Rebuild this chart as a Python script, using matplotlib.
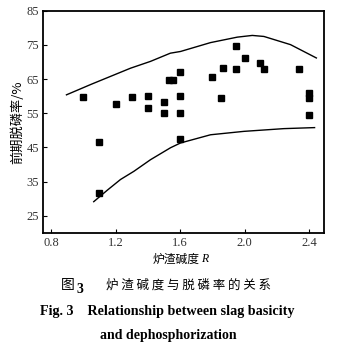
import matplotlib
matplotlib.use('Agg')
import matplotlib.pyplot as plt

plt.rcParams['font.family'] = ['Liberation Serif', 'Noto Sans CJK SC']

# measured points: basicity R vs early dephosphorization rate (%)
basicity = [1.00, 1.10, 1.10, 1.20, 1.30, 1.40, 1.40, 1.50, 1.50, 1.53, 1.555,
            1.60, 1.60, 1.60, 1.60, 1.80, 1.855, 1.868, 1.948, 1.948, 2.00,
            2.095, 2.118, 2.34, 2.397, 2.397, 2.397]
rate = [59.8, 46.7, 31.5, 57.6, 59.8, 60.0, 56.4, 58.3, 55.2, 64.8, 64.8,
        67.1, 60.0, 55.0, 47.6, 65.5, 59.4, 68.4, 74.8, 67.9, 71.3,
        69.8, 68.0, 68.1, 60.8, 59.6, 54.4]

# upper envelope
upper_r = [0.896, 1.05, 1.293, 1.417, 1.54, 1.603, 1.789, 1.955, 2.048, 2.12, 2.285, 2.445]
upper_v = [60.4, 63.5, 68.2, 70.2, 72.6, 73.1, 75.7, 77.3, 77.8, 77.5, 75.1, 71.2]

# lower envelope
lower_r = [1.065, 1.15, 1.231, 1.314, 1.417, 1.541, 1.603, 1.789, 1.996, 2.244, 2.434]
lower_v = [29.1, 32.5, 35.6, 38.0, 41.4, 44.9, 46.3, 48.7, 49.7, 50.5, 50.8]

xticks = [0.8, 1.2, 1.6, 2.0, 2.4]
yticks = [25, 35, 45, 55, 65, 75, 85]

fig = plt.figure(figsize=(3.39, 3.5), dpi=100)
ax = fig.add_axes([0.128, 0.335, 0.829, 0.634])

ax.plot(upper_r, upper_v, color='black', lw=1.0)
ax.plot(lower_r, lower_v, color='black', lw=1.0)
ax.plot(basicity, rate, 's', color='black', ms=4)

ax.set_xlim(0.753, 2.495)
ax.set_ylim(20, 85)
ax.set_xticks(xticks)
ax.set_xticklabels(['0.8', '1.2', '1.6', '2.0', '2.4'])
ax.set_yticks(yticks)
ax.tick_params(direction='in', length=3, width=0.8, labelsize=9, pad=3,
               labelcolor='#333333')
for s in ax.spines.values():
    s.set_linewidth(1.3)

# x label: Chinese text plus italic R
fig.text(0.59, 0.26, '炉渣碱度', ha='right', va='center', fontsize=8.5,
         family='Noto Sans CJK SC')
fig.text(0.592, 0.26, 'R', ha='left', va='center', fontsize=8.5,
         style='italic', family='Liberation Serif')
ax.set_ylabel('前期脱磷率/%', fontsize=9.5, labelpad=2, family='Noto Sans CJK SC')

# caption
fig.text(0.201, 0.186, '图', ha='center', va='center', fontsize=10,
         family='Noto Sans CJK SC')
fig.text(0.2345, 0.174, '3', ha='center', va='center', fontsize=10,
         fontweight='bold', family='Liberation Serif')
fig.text(0.555, 0.186, '炉 渣 碱 度 与 脱 磷 率 的 关 系', ha='center', va='center',
         fontsize=9, family='Noto Sans CJK SC')
fig.text(0.494, 0.111, 'Fig. 3    Relationship between slag basicity', ha='center', va='center',
         fontsize=10.2, fontweight='bold', family='Liberation Serif')
fig.text(0.496, 0.04, 'and dephosphorization', ha='center', va='center',
         fontsize=10, fontweight='bold', family='Liberation Serif')

fig.savefig('out.png', dpi=100)
